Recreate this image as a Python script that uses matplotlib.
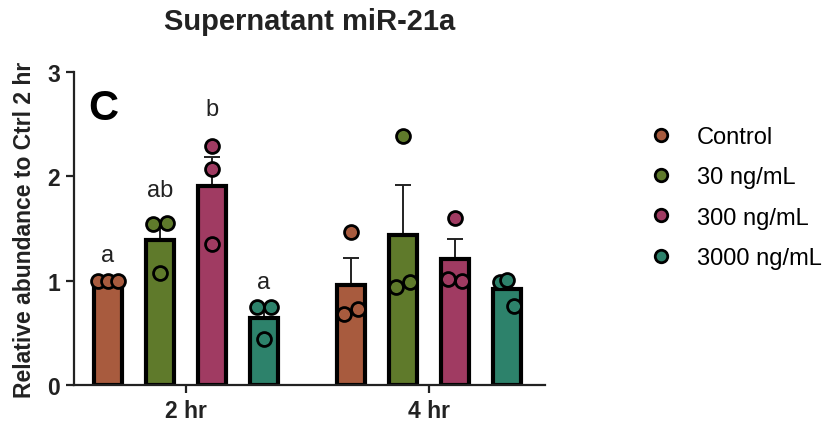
import numpy as np
import matplotlib
matplotlib.use("Agg")
import matplotlib.pyplot as plt
from matplotlib.lines import Line2D

plt.rcParams['font.family'] = ['Liberation Sans', 'DejaVu Sans']

# data
times = ["2 hr", "4 hr"]
groups = ["Control", "30 ng/mL", "300 ng/mL", "3000 ng/mL"]
colors = ["#A85B3E", "#5F7A2B", "#A03B62", "#2D826B"]

# replicate values, [group] -> 3 points
points_2hr = [[1.0, 1.0, 1.0],
              [1.07, 1.54, 1.55],
              [1.35, 2.07, 2.29],
              [0.44, 0.75, 0.75]]
points_4hr = [[0.68, 1.47, 0.73],
              [0.94, 2.39, 0.99],
              [1.02, 1.60, 1.00],
              [0.99, 0.76, 1.01]]
letters_2hr = ["a", "ab", "b", "a"]
letters_2hr_y = [1.14, 1.76, 2.54, 0.88]

all_points = [points_2hr, points_4hr]

fig = plt.figure(figsize=(8.32, 4.31), dpi=100)
ax = fig.add_axes([74/832, 45/431, 471/832, 313/431])

offsets = [-0.321, -0.107, 0.107, 0.321]
bar_w = 0.115
# horizontal spread of the replicate dots
jit_2hr = [[-0.04, 0.0, 0.04], [0.0, -0.03, 0.03], [0.0, 0.0, 0.0], [0.0, -0.03, 0.03]]
jit_4hr = [[-0.03, 0.0, 0.03], [-0.03, 0.0, 0.03], [-0.03, 0.0, 0.03], [-0.03, 0.03, 0.0]]
jits = [jit_2hr, jit_4hr]

for t in range(len(times)):
    for g in range(len(groups)):
        vals = np.array(all_points[t][g])
        m = vals.mean()
        sem = vals.std(ddof=1) / np.sqrt(len(vals))
        x = t + offsets[g]
        ax.bar(x, m, width=bar_w, color=colors[g], edgecolor="black",
               linewidth=3, zorder=2)
        if sem > 0:
            ax.errorbar(x, m, yerr=[[0], [sem]], fmt="none", ecolor="#222222",
                        elinewidth=1.4, capsize=6, capthick=1.4, zorder=1.5)
        xs = x + np.array(jits[t][g])
        ax.plot(xs, vals, "o", ms=10, mfc=colors[g], mec="black", mew=2,
                zorder=3, clip_on=False)

for g in range(len(groups)):
    ax.text(offsets[g], letters_2hr_y[g], letters_2hr[g], ha="center",
            va="bottom", fontsize=17, color="#222222")

ax.set_xlim(-0.461, 1.477)
ax.set_ylim(0, 3)
ax.set_yticks([0, 1, 2, 3])
ax.set_xticks([0, 1])
ax.set_xticklabels(times)
for s in ["top", "right"]:
    ax.spines[s].set_visible(False)
for s in ["left", "bottom"]:
    ax.spines[s].set_linewidth(1.6)
    ax.spines[s].set_color("#222222")
ax.tick_params(axis="both", length=6, width=1.6, color="#222222",
               labelsize=16.5, pad=4)
for lbl in ax.get_xticklabels() + ax.get_yticklabels():
    lbl.set_fontweight("bold")
    lbl.set_color("#222222")

ax.set_ylabel("Relative abundance to Ctrl 2 hr", fontsize=16.5,
              fontweight="bold", color="#222222", labelpad=8)
ax.set_title("Supernatant miR-21a", fontsize=21, fontweight="bold",
             color="#222222", pad=31)
ax.text(0.03, 0.95, "C", transform=ax.transAxes, fontsize=30,
        fontweight="bold", va="top", ha="left", color="black")

handles = [Line2D([], [], ls="none", marker="o", ms=9, mfc=c, mec="black",
                  mew=2) for c in colors]
fig.legend(handles, groups, loc="upper left", bbox_to_anchor=(0.755, 0.755),
           frameon=False, fontsize=17, handletextpad=1.0, labelspacing=0.78,
           handlelength=1.0)

fig.savefig("out.png", dpi=100)
